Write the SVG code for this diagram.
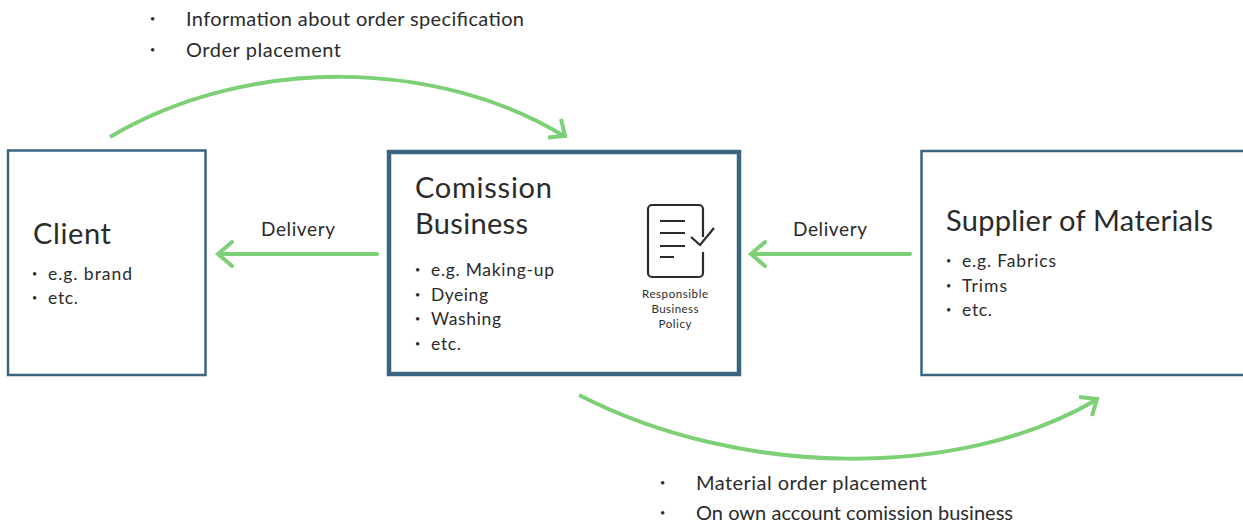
<svg xmlns="http://www.w3.org/2000/svg" width="1243" height="522" viewBox="0 0 1243 522">
<style>
text{font-family:"Lato","Noto Sans",sans-serif;fill:#2b2b2b;}
.t{font-size:20px}
.h{font-size:29px}
.b{font-size:17.5px}
.d{font-size:9px}
.s{font-size:11.5px;text-anchor:middle}
.box{fill:#fff;stroke:#3a6580;stroke-width:2.5}
.c{fill:none;stroke:#7ed076;stroke-width:4}
</style>
<rect width="1243" height="522" fill="#fff"/>
<g id="connectors">
<path class="c" d="M110 137C250 54 440 60 564 136M548 137.500L565 136L561 119"/>
<path class="c" stroke-linecap="round" d="M377 254H219M232 242L218 254L232 266"/>
<path class="c" stroke-linecap="round" d="M910 254H752M765 242L751 254L765 266"/>
<path class="c" d="M579 395C740 478 960 480 1096 400M1079 397L1097 399L1092 416"/>
</g>
<g id="top-labels"><text class="d" x="150" y="22">•</text><text class="t" x="186" y="26" textLength="338">Information about order specification</text><text class="d" x="150" y="53">•</text><text class="t" x="186" y="57" textLength="155">Order placement</text></g>
<g id="client"><rect class="box" x="8" y="150.500" width="197.500" height="224.500"/><text class="h" x="33" y="244" textLength="78">Client</text><text class="d" x="32" y="277">•</text><text class="b" x="48" y="280" textLength="84">e.g. brand</text><text class="d" x="32" y="301">•</text><text class="b" x="48" y="304" textLength="30">etc.</text></g>
<g id="commission"><rect class="box" x="389" y="152" width="350" height="222" style="stroke-width:4.500"/><text class="h" x="415" y="198" textLength="137">Comission</text><text class="h" x="415" y="234" textLength="113">Business</text>
<text class="d" x="415" y="273">•</text><text class="b" x="431" y="276" textLength="123">e.g. Making-up</text><text class="d" x="415" y="298">•</text><text class="b" x="431" y="301" textLength="57">Dyeing</text><text class="d" x="415" y="322">•</text><text class="b" x="431" y="325" textLength="70">Washing</text><text class="d" x="415" y="347">•</text><text class="b" x="431" y="350" textLength="30">etc.</text>
<path d="M703 237V209a4 4 0 0 0-4-4h-47a4 4 0 0 0-4 4v64a4 4 0 0 0 4 4h47a4 4 0 0 0 4-4V252M660 221h25M660 233h25M660 246h25M660 257h14M691 237l9 8l14-17" fill="none" stroke="#2b2b2b" stroke-width="2.200"/>
<text class="s" x="675" y="298" textLength="66">Responsible</text><text class="s" x="675" y="313" textLength="47">Business</text><text class="s" x="675" y="328" textLength="33">Policy</text></g>
<g id="supplier"><rect class="box" x="921.500" y="151" width="330" height="224"/><text class="h" x="946" y="231" textLength="267">Supplier of Materials</text><text class="d" x="946" y="264">•</text><text class="b" x="962" y="267" textLength="94">e.g. Fabrics</text><text class="d" x="946" y="289">•</text><text class="b" x="962" y="292" textLength="45">Trims</text><text class="d" x="946" y="313">•</text><text class="b" x="962" y="316" textLength="30">etc.</text></g>
<g id="delivery-labels"><text class="b" x="261" y="236" style="font-size:19px" textLength="74">Delivery</text><text class="b" x="793" y="236" style="font-size:19px" textLength="74">Delivery</text></g>
<g id="bottom-labels"><text class="d" x="660" y="486">•</text><text class="t" x="696" y="490" textLength="231">Material order placement</text><text class="d" x="660" y="516">•</text><text class="t" x="696" y="520" textLength="317">On own account comission business</text></g>
</svg>
